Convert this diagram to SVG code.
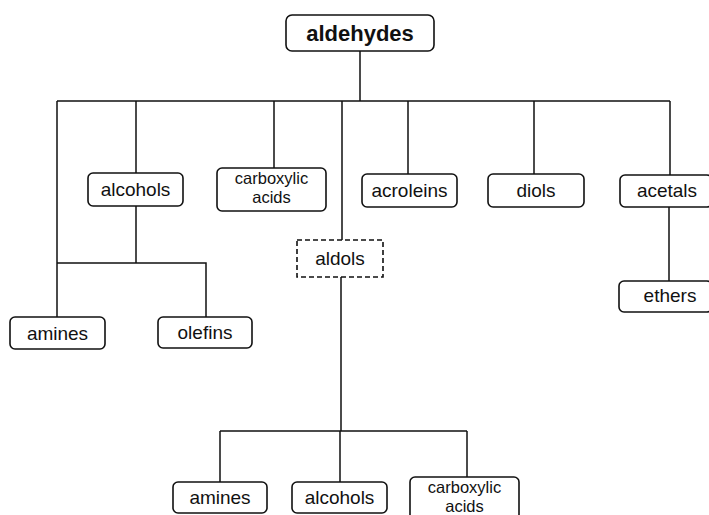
<svg xmlns="http://www.w3.org/2000/svg" width="709" height="515" viewBox="0 0 709 515">
<style>
.box{fill:#fff;stroke:#111;stroke-width:1.6}
.dash{fill:#fff;stroke:#111;stroke-width:1.6;stroke-dasharray:5 3}
.t{font-family:"Liberation Sans",Arial,sans-serif;font-size:19px;fill:#111;text-anchor:middle}
.s{font-family:"Liberation Sans",Arial,sans-serif;font-size:16.5px;fill:#111;text-anchor:middle}
.b{font-family:"Liberation Sans",Arial,sans-serif;font-size:22px;font-weight:bold;fill:#111;text-anchor:middle}
.c{fill:none;stroke:#111;stroke-width:1.5}
</style>
<rect width="709" height="515" fill="#fff"/>
<g id="connectors" class="c">
<path d="M360,51V101M57,101H670M57,101V317M136,101V173M136,206V263M57,263H206V317M274,101V168M342,101V240M341,277V431M220,431H467M220,431V482M340,431V482M467,431V477M408,101V174M534,101V174M670,101V175M669,207V281"/>
</g>
<g id="aldehydes"><rect class="box" x="286" y="15" width="148" height="36" rx="6"/><text class="b" x="360" y="41">aldehydes</text></g>
<g id="alcohols"><rect class="box" x="88" y="173" width="95" height="33" rx="5"/><text class="t" x="135.5" y="196">alcohols</text></g>
<g id="carboxylic1"><rect class="box" x="217" y="168" width="109" height="43" rx="5"/><text class="s" x="271.5" y="184">carboxylic</text><text class="s" x="271.5" y="202.5">acids</text></g>
<g id="acroleins"><rect class="box" x="362" y="174" width="95" height="33" rx="5"/><text class="t" x="409.5" y="197">acroleins</text></g>
<g id="diols"><rect class="box" x="488" y="174" width="96" height="33" rx="5"/><text class="t" x="536" y="197">diols</text></g>
<g id="acetals"><rect class="box" x="620" y="175" width="92" height="32" rx="5"/><text class="t" x="667" y="197">acetals</text></g>
<g id="aldols"><rect class="dash" x="297" y="240" width="86" height="37"/><text class="t" x="340" y="265">aldols</text></g>
<g id="ethers"><rect class="box" x="619" y="281" width="93" height="31" rx="5"/><text class="t" x="670" y="302">ethers</text></g>
<g id="amines1"><rect class="box" x="10" y="317" width="95" height="32" rx="5"/><text class="t" x="57.5" y="340">amines</text></g>
<g id="olefins"><rect class="box" x="158" y="317" width="94" height="31" rx="5"/><text class="t" x="205" y="339">olefins</text></g>
<g id="amines2"><rect class="box" x="173" y="482" width="94" height="31" rx="5"/><text class="t" x="220" y="504">amines</text></g>
<g id="alcohols2"><rect class="box" x="292" y="482" width="95" height="31" rx="5"/><text class="t" x="339.5" y="504">alcohols</text></g>
<g id="carboxylic2"><rect class="box" x="410" y="477" width="109" height="45" rx="5"/><text class="s" x="464.5" y="493">carboxylic</text><text class="s" x="464.5" y="511.5">acids</text></g>
</svg>
